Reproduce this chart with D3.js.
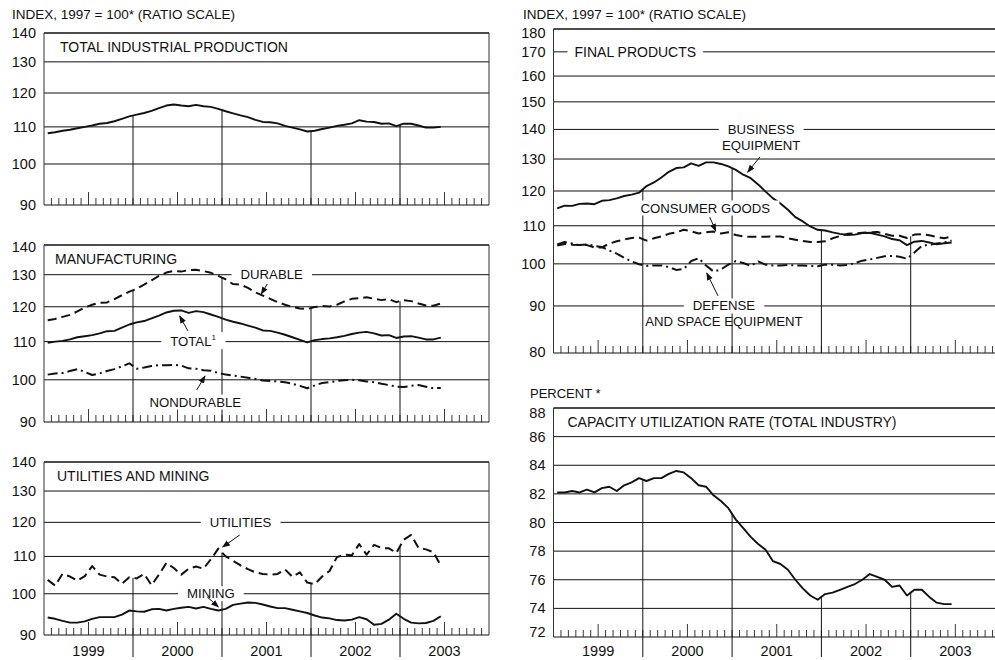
<!DOCTYPE html>
<html>
<head>
<meta charset="utf-8">
<script src="https://cdn.jsdelivr.net/npm/d3@7"></script>
<style>
  body { margin: 0; background: #fff; }
  svg { display: block; }
  text { font-family: "Liberation Sans", Arial, sans-serif; fill: #111; }
</style>
</head>
<body>
<svg id="chart" width="995" height="660"></svg>
<script>
// monthly readings, Jan 1999 .. Jun 2003 (month index 0 = Jan 1999)
const years = [1999, 2000, 2001, 2002, 2003];

const indexTicks = [90, 100, 110, 120, 130, 140];
const finalTicks = [80, 90, 100, 110, 120, 130, 140, 150, 160, 170, 180];
const capTicks = [72, 74, 76, 78, 80, 82, 84, 86, 88];

const totalIP = [108.2,108.5,108.9,109.2,109.6,110.0,110.4,110.9,111.1,111.6,112.3,113.0,
  113.5,114.0,114.6,115.4,116.2,116.5,116.2,116.0,116.4,116.0,115.8,115.2,
  114.5,113.9,113.3,112.8,112.0,111.4,111.3,111.0,110.3,109.8,109.3,108.7,
  108.9,109.4,109.8,110.3,110.6,111.0,111.9,111.5,111.4,110.9,111.0,110.2,
  110.9,110.9,110.4,109.8,109.8,110.0];

const durableMfg = [116.0,116.4,117.0,117.6,118.6,119.8,120.6,121.2,121.3,122.3,123.5,124.6,
  125.5,126.8,128.2,129.6,130.7,131.2,131.0,131.5,131.6,131.2,130.6,129.6,
  128.5,127.0,126.8,125.8,124.4,123.4,122.4,121.4,120.6,119.9,119.5,119.3,
  119.9,120.2,120.1,120.6,121.6,122.4,122.6,122.9,122.4,122.0,122.3,121.4,
  122.0,121.7,121.0,120.4,120.3,121.0];

const totalMfg = [109.7,110.0,110.2,110.6,111.2,111.5,111.8,112.3,112.9,113.0,113.9,114.8,
  115.4,115.8,116.6,117.4,118.3,118.8,118.9,118.2,118.7,118.4,117.7,117.0,
  116.2,115.6,115.1,114.5,113.9,113.1,113.0,112.5,111.9,111.2,110.5,109.8,
  110.4,110.7,110.9,111.2,111.6,112.1,112.5,112.7,112.3,111.7,111.8,111.0,
  111.4,111.5,111.1,110.6,110.6,111.1];

const nondurableMfg = [101.3,101.6,101.7,102.2,102.7,102.0,101.2,101.6,102.2,102.7,103.4,104.2,
  102.8,103.1,103.5,103.7,103.7,103.8,103.6,102.9,102.8,102.4,102.3,101.7,
  101.3,101.1,100.8,100.5,100.2,99.8,99.7,99.6,99.4,99.0,98.5,97.9,
  98.6,99.2,99.4,99.7,99.9,100.0,99.9,99.6,99.4,99.0,98.7,98.3,
  98.2,98.5,98.7,98.3,97.9,98.0];

const utilities = [103.6,102.1,105.2,104.5,103.4,104.6,107.3,105.0,104.5,104.3,102.6,104.3,
  104.0,105.2,102.2,105.0,108.2,106.8,105.0,106.6,107.2,106.6,109.2,112.2,
  110.0,108.8,107.5,106.5,105.6,105.2,105.0,105.2,106.4,104.4,105.6,102.9,
  102.5,104.5,106.0,109.8,110.5,110.3,113.5,110.5,113.3,112.4,112.3,111.0,
  114.8,116.2,112.4,112.0,111.2,107.5];

const mining = [94.1,93.8,93.3,92.9,92.9,93.2,93.8,94.2,94.2,94.2,94.8,95.8,
  95.6,95.5,96.1,96.2,95.8,96.2,96.5,96.7,96.3,96.7,96.2,95.8,
  96.2,97.2,97.5,97.8,97.7,97.3,96.8,96.4,96.4,96.0,95.6,95.2,
  94.6,94.1,93.9,93.5,93.4,93.6,94.2,93.7,92.4,92.6,93.6,95.0,
  93.8,92.9,92.7,92.8,93.3,94.4];

const businessEquip = [114.9,115.7,115.6,116.2,116.3,116.1,117.1,117.3,117.8,118.5,118.9,119.5,
  121.5,122.6,124.1,125.9,127.1,127.3,128.6,127.8,128.9,128.9,128.4,127.6,
  126.5,125.0,123.9,122.0,119.8,117.8,116.3,114.5,112.4,111.2,109.8,108.9,
  108.7,108.2,107.8,107.5,107.6,108.0,108.1,107.6,107.1,106.4,106.1,104.8,
  105.7,105.9,105.5,105.0,105.3,105.5];

const consumerGoods = [104.7,105.1,104.9,104.8,104.8,104.2,104.2,105.2,105.8,106.3,106.7,106.8,
  106.0,106.6,107.1,107.8,108.2,108.9,108.5,107.9,108.2,108.4,107.9,108.2,
  107.5,107.1,107.0,107.0,107.0,107.1,107.1,106.6,106.2,105.9,105.6,105.6,
  105.8,106.6,107.2,107.8,107.9,108.1,108.2,108.3,107.8,107.3,107.3,106.7,
  107.6,107.7,107.4,107.0,106.6,107.1];

const defenseSpace = [105.0,105.6,105.2,104.8,105.0,104.6,104.3,103.4,102.6,101.5,100.6,99.9,
  99.5,99.6,99.6,99.2,98.5,98.7,100.7,101.4,99.6,98.1,98.6,99.8,
  100.7,100.2,99.5,100.6,99.8,99.6,99.6,99.7,99.6,99.6,99.5,99.4,
  99.8,99.8,99.6,99.7,100.2,100.8,101.1,101.5,101.9,102.0,101.8,101.3,
  102.9,104.6,104.9,105.2,105.5,106.0];

const capacityUtil = [82.1,82.1,82.2,82.1,82.3,82.1,82.4,82.5,82.2,82.6,82.8,83.1,
  82.9,83.1,83.1,83.4,83.6,83.5,83.1,82.6,82.5,81.9,81.5,81.0,
  80.2,79.6,79.0,78.5,78.1,77.3,77.1,76.7,76.0,75.4,74.9,74.6,
  75.0,75.1,75.3,75.5,75.7,76.0,76.4,76.2,76.0,75.5,75.6,74.9,
  75.3,75.3,74.8,74.4,74.3,74.3];

const SOLID = null, DASH = "9,5", DASHDOT = "10,4,2,4";

const panels = [
  { left: 44, right: 489, top: 33, bottom: 205, log: true, domain: [90, 140], ticks: indexTicks,
    title: "TOTAL INDUSTRIAL PRODUCTION", titleDx: 16, nudge: [0, 0],
    series: [{ v: totalIP, dash: SOLID }], labels: [] },
  { left: 44, right: 489, top: 245, bottom: 422, log: true, domain: [90, 140], ticks: indexTicks,
    title: "MANUFACTURING", titleDx: 11, nudge: [0, 2],
    series: [{ v: durableMfg, dash: DASH }, { v: totalMfg, dash: SOLID }, { v: nondurableMfg, dash: DASHDOT }],
    labels: [
      { lines: ["DURABLE"], m: 30.7, v: 130, arrow: [[30.1, 127.0], [29.3, 123.9]] },
      { lines: ["TOTAL"], sup: "1", m: 20.1, v: 110, arrow: [[19.4, 113.0], [18.3, 117.2]] },
      { lines: ["NONDURABLE"], m: 20.4, v: 94.6, arrow: [[20.6, 97.5], [21.7, 100.9]] }
    ] },
  { left: 44, right: 489, top: 462, bottom: 635, log: true, domain: [90, 140], ticks: indexTicks,
    title: "UTILITIES AND MINING", titleDx: 13, years: true, nudge: [0, 0],
    series: [{ v: utilities, dash: DASH }, { v: mining, dash: SOLID }],
    labels: [
      { lines: ["UTILITIES"], m: 26.5, v: 120, arrow: [[26.4, 116.2], [24.1, 112.7]] },
      { lines: ["MINING"], m: 22.5, v: 100, arrow: [[22.0, 99.2], [23.5, 96.7]] }
    ] },
  { left: 553.5, right: 1000, top: 29, bottom: 353, log: true, domain: [80, 180], ticks: finalTicks,
    title: "FINAL PRODUCTS", titleDx: 21, titleY: 170, nudge: [-1, 4],
    series: [{ v: businessEquip, dash: SOLID }, { v: consumerGoods, dash: DASH }, { v: defenseSpace, dash: DASHDOT }],
    labels: [
      { lines: ["BUSINESS", "EQUIPMENT"], m: 27.9, v: 140, arrow: [[27.75, 130.7], [26.1, 125.8]] },
      { lines: ["CONSUMER GOODS"], m: 20.4, v: 115, arrow: [[21.0, 112.4], [21.8, 108.6]] },
      { lines: ["DEFENSE", "AND SPACE EQUIPMENT"], m: 22.9, v: 90, arrow: [[22.1, 92.3], [20.6, 97.7]] }
    ] },
  { left: 553.5, right: 1000, top: 408, bottom: 637, log: false, domain: [72, 88], ticks: capTicks,
    title: "CAPACITY UTILIZATION RATE (TOTAL INDUSTRY)", titleDx: 14, years: true, nudge: [-5, 5],
    series: [{ v: capacityUtil, dash: SOLID }], labels: [] }
];

const svg = d3.select("#chart");

svg.append("defs").append("marker")
  .attr("id", "arrowhead")
  .attr("viewBox", "-7 -4 8 8")
  .attr("markerWidth", 8).attr("markerHeight", 8)
  .attr("markerUnits", "userSpaceOnUse")
  .attr("orient", "auto")
  .append("path")
  .attr("d", "M1,0 L-7,-3 L-7,3 Z")
  .attr("fill", "#111");

function drawPanel(p) {
  const g = svg.append("g");
  const x = d3.scaleLinear().domain([0, 60]).range([p.left, p.right]);
  const y = (p.log ? d3.scaleLog() : d3.scaleLinear()).domain(p.domain).range([p.bottom, p.top]);

  // horizontal rules (top one is the frame)
  g.selectAll("line.grid").data(p.ticks.slice(1)).join("line")
    .attr("x1", p.left).attr("x2", p.right)
    .attr("y1", d => y(d)).attr("y2", d => y(d))
    .attr("stroke", "#111").attr("stroke-width", (d, i, a) => i === a.length - 1 ? 1.3 : 1);

  // frame sides + baseline
  g.append("line").attr("x1", p.left).attr("x2", p.left).attr("y1", p.top).attr("y2", p.bottom)
    .attr("stroke", "#333").attr("stroke-width", 1);
  g.append("line").attr("x1", p.right).attr("x2", p.right).attr("y1", p.top).attr("y2", p.bottom)
    .attr("stroke", "#333").attr("stroke-width", 1);
  g.append("line").attr("x1", p.left).attr("x2", p.right).attr("y1", p.bottom).attr("y2", p.bottom)
    .attr("stroke", "#111").attr("stroke-width", 1.2);

  // monthly ticks, taller at mid-year
  g.selectAll("line.tick").data(d3.range(1, 60)).join("line")
    .attr("x1", d => x(d)).attr("x2", d => x(d))
    .attr("y1", p.bottom).attr("y2", d => p.bottom - (d % 12 === 6 ? 13 : 7))
    .attr("stroke", "#222").attr("stroke-width", 0.9);

  // year dividers drop from the highest curve
  [12, 24, 36, 48].forEach(m => {
    const top = d3.max(p.series, s => (s.v[m - 1] + s.v[m]) / 2);
    g.append("line")
      .attr("x1", x(m)).attr("x2", x(m))
      .attr("y1", y(top)).attr("y2", p.years ? 657 : p.bottom)
      .attr("stroke", "#111").attr("stroke-width", 1);
  });

  const line = d3.line().x((d, i) => x(i + 0.5)).y(d => y(d));
  p.series.forEach(s => {
    g.append("path").datum(s.v)
      .attr("d", line)
      .attr("fill", "none")
      .attr("stroke", "#111")
      .attr("stroke-width", s.dash ? 2 : 1.9)
      .attr("stroke-linejoin", "round")
      .attr("stroke-dasharray", s.dash);
  });

  // title
  const tY = p.titleY ? y(p.titleY) + 5 : p.top + 19;
  const title = g.append("text").attr("x", p.left + p.titleDx).attr("y", tY)
    .attr("font-size", 14).text(p.title);
  const tb = title.node().getBBox();
  g.insert("rect", "text").attr("x", tb.x - 7).attr("y", tb.y).attr("width", tb.width + 14)
    .attr("height", tb.height).attr("fill", "#fff");

  // series labels with arrows
  p.labels.forEach(l => {
    l.lines.forEach((t, k) => {
      const tx = g.append("text")
        .attr("x", x(l.m)).attr("y", y(l.v) + k * 16)
        .attr("text-anchor", "middle").attr("dominant-baseline", "central")
        .attr("font-size", 13.2).text(t);
      if (l.sup && k === 0) {
        tx.append("tspan").attr("font-size", 8).attr("dy", -5).text(l.sup);
      }
      if (k === 0) {
        const b = tx.node().getBBox();
        g.insert("rect", () => tx.node()).attr("x", b.x - 9).attr("y", b.y)
          .attr("width", b.width + 18).attr("height", b.height).attr("fill", "#fff");
      }
    });
    g.append("line")
      .attr("x1", x(l.arrow[0][0])).attr("y1", y(l.arrow[0][1]))
      .attr("x2", x(l.arrow[1][0])).attr("y2", y(l.arrow[1][1]))
      .attr("stroke", "#111").attr("stroke-width", 1)
      .attr("marker-end", "url(#arrowhead)");
  });

  // value labels (end labels nudged inward a little, as printed)
  const last = p.ticks.length - 1;
  g.selectAll("text.ylab").data(p.ticks).join("text")
    .attr("x", p.left - 8)
    .attr("y", (d, i) => y(d) + (i === 0 ? p.nudge[0] : i === last ? p.nudge[1] : 0))
    .attr("text-anchor", "end").attr("dominant-baseline", "central")
    .attr("font-size", 14.5).text(d => d);

  if (p.years) {
    g.selectAll("text.year").data(years).join("text")
      .attr("x", (d, i) => x(i * 12 + 6)).attr("y", 656)
      .attr("text-anchor", "middle").attr("font-size", 14.5).text(d => d);
  }
}

panels.forEach(drawPanel);

svg.append("text").attr("x", 12).attr("y", 19).attr("font-size", 13.5)
  .text("INDEX, 1997 = 100* (RATIO SCALE)");
svg.append("text").attr("x", 523).attr("y", 19).attr("font-size", 13.5)
  .text("INDEX, 1997 = 100* (RATIO SCALE)");
svg.append("text").attr("x", 530).attr("y", 398).attr("font-size", 13)
  .text("PERCENT *");
</script>
</body>
</html>
